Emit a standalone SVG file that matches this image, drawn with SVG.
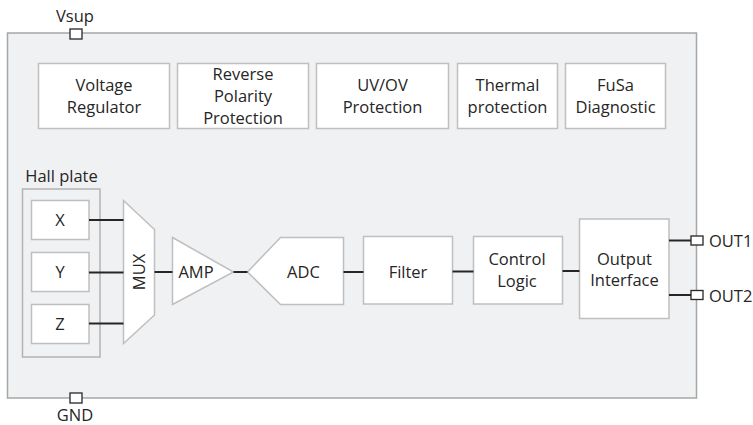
<svg xmlns="http://www.w3.org/2000/svg" width="753" height="425" viewBox="0 0 753 425">
<style>
text{font-family:"Open Sans","Liberation Sans",Arial,sans-serif;font-size:16.5px;fill:#262626;text-anchor:middle}
.blk{fill:#fff;stroke:#bfbfbf;stroke-width:1.5}
.pin{fill:#fff;stroke:#262626;stroke-width:1.3}
.wire{stroke:#262626;stroke-width:2;fill:none}
</style>
<rect id="chip" x="7.5" y="33" width="689" height="365" fill="#f0f1f3" stroke="#a6a6a6" stroke-width="1.5"/>
<g id="vsup"><rect class="pin" x="70" y="29" width="12" height="10"/><text x="75" y="22">Vsup</text></g>
<g id="gnd"><rect class="pin" x="70" y="393" width="12" height="10"/><text x="75" y="421">GND</text></g>
<g id="voltage-regulator"><rect class="blk" x="38.5" y="63.5" width="131" height="65"/><text x="104" y="91">Voltage</text><text x="104" y="112.7">Regulator</text></g>
<g id="reverse-polarity"><rect class="blk" x="177.5" y="63.5" width="131" height="65"/><text x="243" y="80">Reverse</text><text x="243" y="102">Polarity</text><text x="243" y="124">Protection</text></g>
<g id="uvov"><rect class="blk" x="316.5" y="63.5" width="132" height="65"/><text x="382.5" y="91">UV/OV</text><text x="382.5" y="112.7">Protection</text></g>
<g id="thermal"><rect class="blk" x="457.5" y="63.5" width="100" height="65"/><text x="507.5" y="91">Thermal</text><text x="507.5" y="112.7">protection</text></g>
<g id="fusa"><rect class="blk" x="565.5" y="63.5" width="100" height="65"/><text x="615.5" y="91">FuSa</text><text x="615.5" y="112.7">Diagnostic</text></g>
<g id="hall-plate"><rect x="22.5" y="189" width="77.5" height="168" fill="none" stroke="#b3b3b3" stroke-width="1.5"/><text x="61.5" y="182">Hall plate</text></g>
<g id="x"><rect class="blk" x="31.5" y="200.5" width="57.5" height="39"/><text x="60" y="226">X</text></g>
<g id="y"><rect class="blk" x="31.5" y="252.5" width="57.5" height="39"/><text x="60" y="278">Y</text></g>
<g id="z"><rect class="blk" x="31.5" y="304.5" width="57.5" height="39"/><text x="60" y="330">Z</text></g>
<g id="mux"><polygon class="blk" points="123.5,200.5 154.5,229.5 154.5,315 123.5,343.5"/><text transform="translate(145,272) rotate(-90)">MUX</text></g>
<g id="amp"><polygon class="blk" points="172.5,237.5 233.5,272 172.5,304.5"/><text x="196" y="277.5">AMP</text></g>
<g id="adc"><polygon class="blk" points="247.5,272 280.5,237.5 343.5,237.5 343.5,304.5 280.5,304.5"/><text x="303.5" y="277.5">ADC</text></g>
<g id="filter"><rect class="blk" x="363.5" y="236.5" width="89" height="67.5"/><text x="408" y="277.5">Filter</text></g>
<g id="control-logic"><rect class="blk" x="473.5" y="236.5" width="89" height="67.5"/><text x="517" y="265">Control</text><text x="517" y="286.7">Logic</text></g>
<g id="output-interface"><rect class="blk" x="579.5" y="219" width="89.5" height="99.5"/><text x="624.5" y="264.5">Output</text><text x="624.5" y="286">Interface</text></g>
<g id="connectors">
<line class="wire" x1="89" y1="220" x2="123.5" y2="220"/>
<line class="wire" x1="89" y1="272.5" x2="123.5" y2="272.5"/>
<line class="wire" x1="89" y1="323.5" x2="123.5" y2="323.5"/>
<line class="wire" x1="154.5" y1="272" x2="172.5" y2="272"/>
<line class="wire" x1="233.5" y1="272" x2="247.5" y2="272"/>
<line class="wire" x1="343.5" y1="272" x2="363.5" y2="272"/>
<line class="wire" x1="452.5" y1="271.5" x2="473.5" y2="271.5"/>
<line class="wire" x1="562.5" y1="271" x2="579.5" y2="271"/>
<line class="wire" x1="669" y1="240.5" x2="691" y2="240.5"/>
<line class="wire" x1="669" y1="295" x2="691" y2="295"/>
</g>
<g id="out1"><rect class="pin" x="691" y="236" width="12" height="9"/><text x="709" y="247" style="text-anchor:start">OUT1</text></g>
<g id="out2"><rect class="pin" x="691" y="290.5" width="12" height="9"/><text x="709" y="301.5" style="text-anchor:start">OUT2</text></g>
</svg>
